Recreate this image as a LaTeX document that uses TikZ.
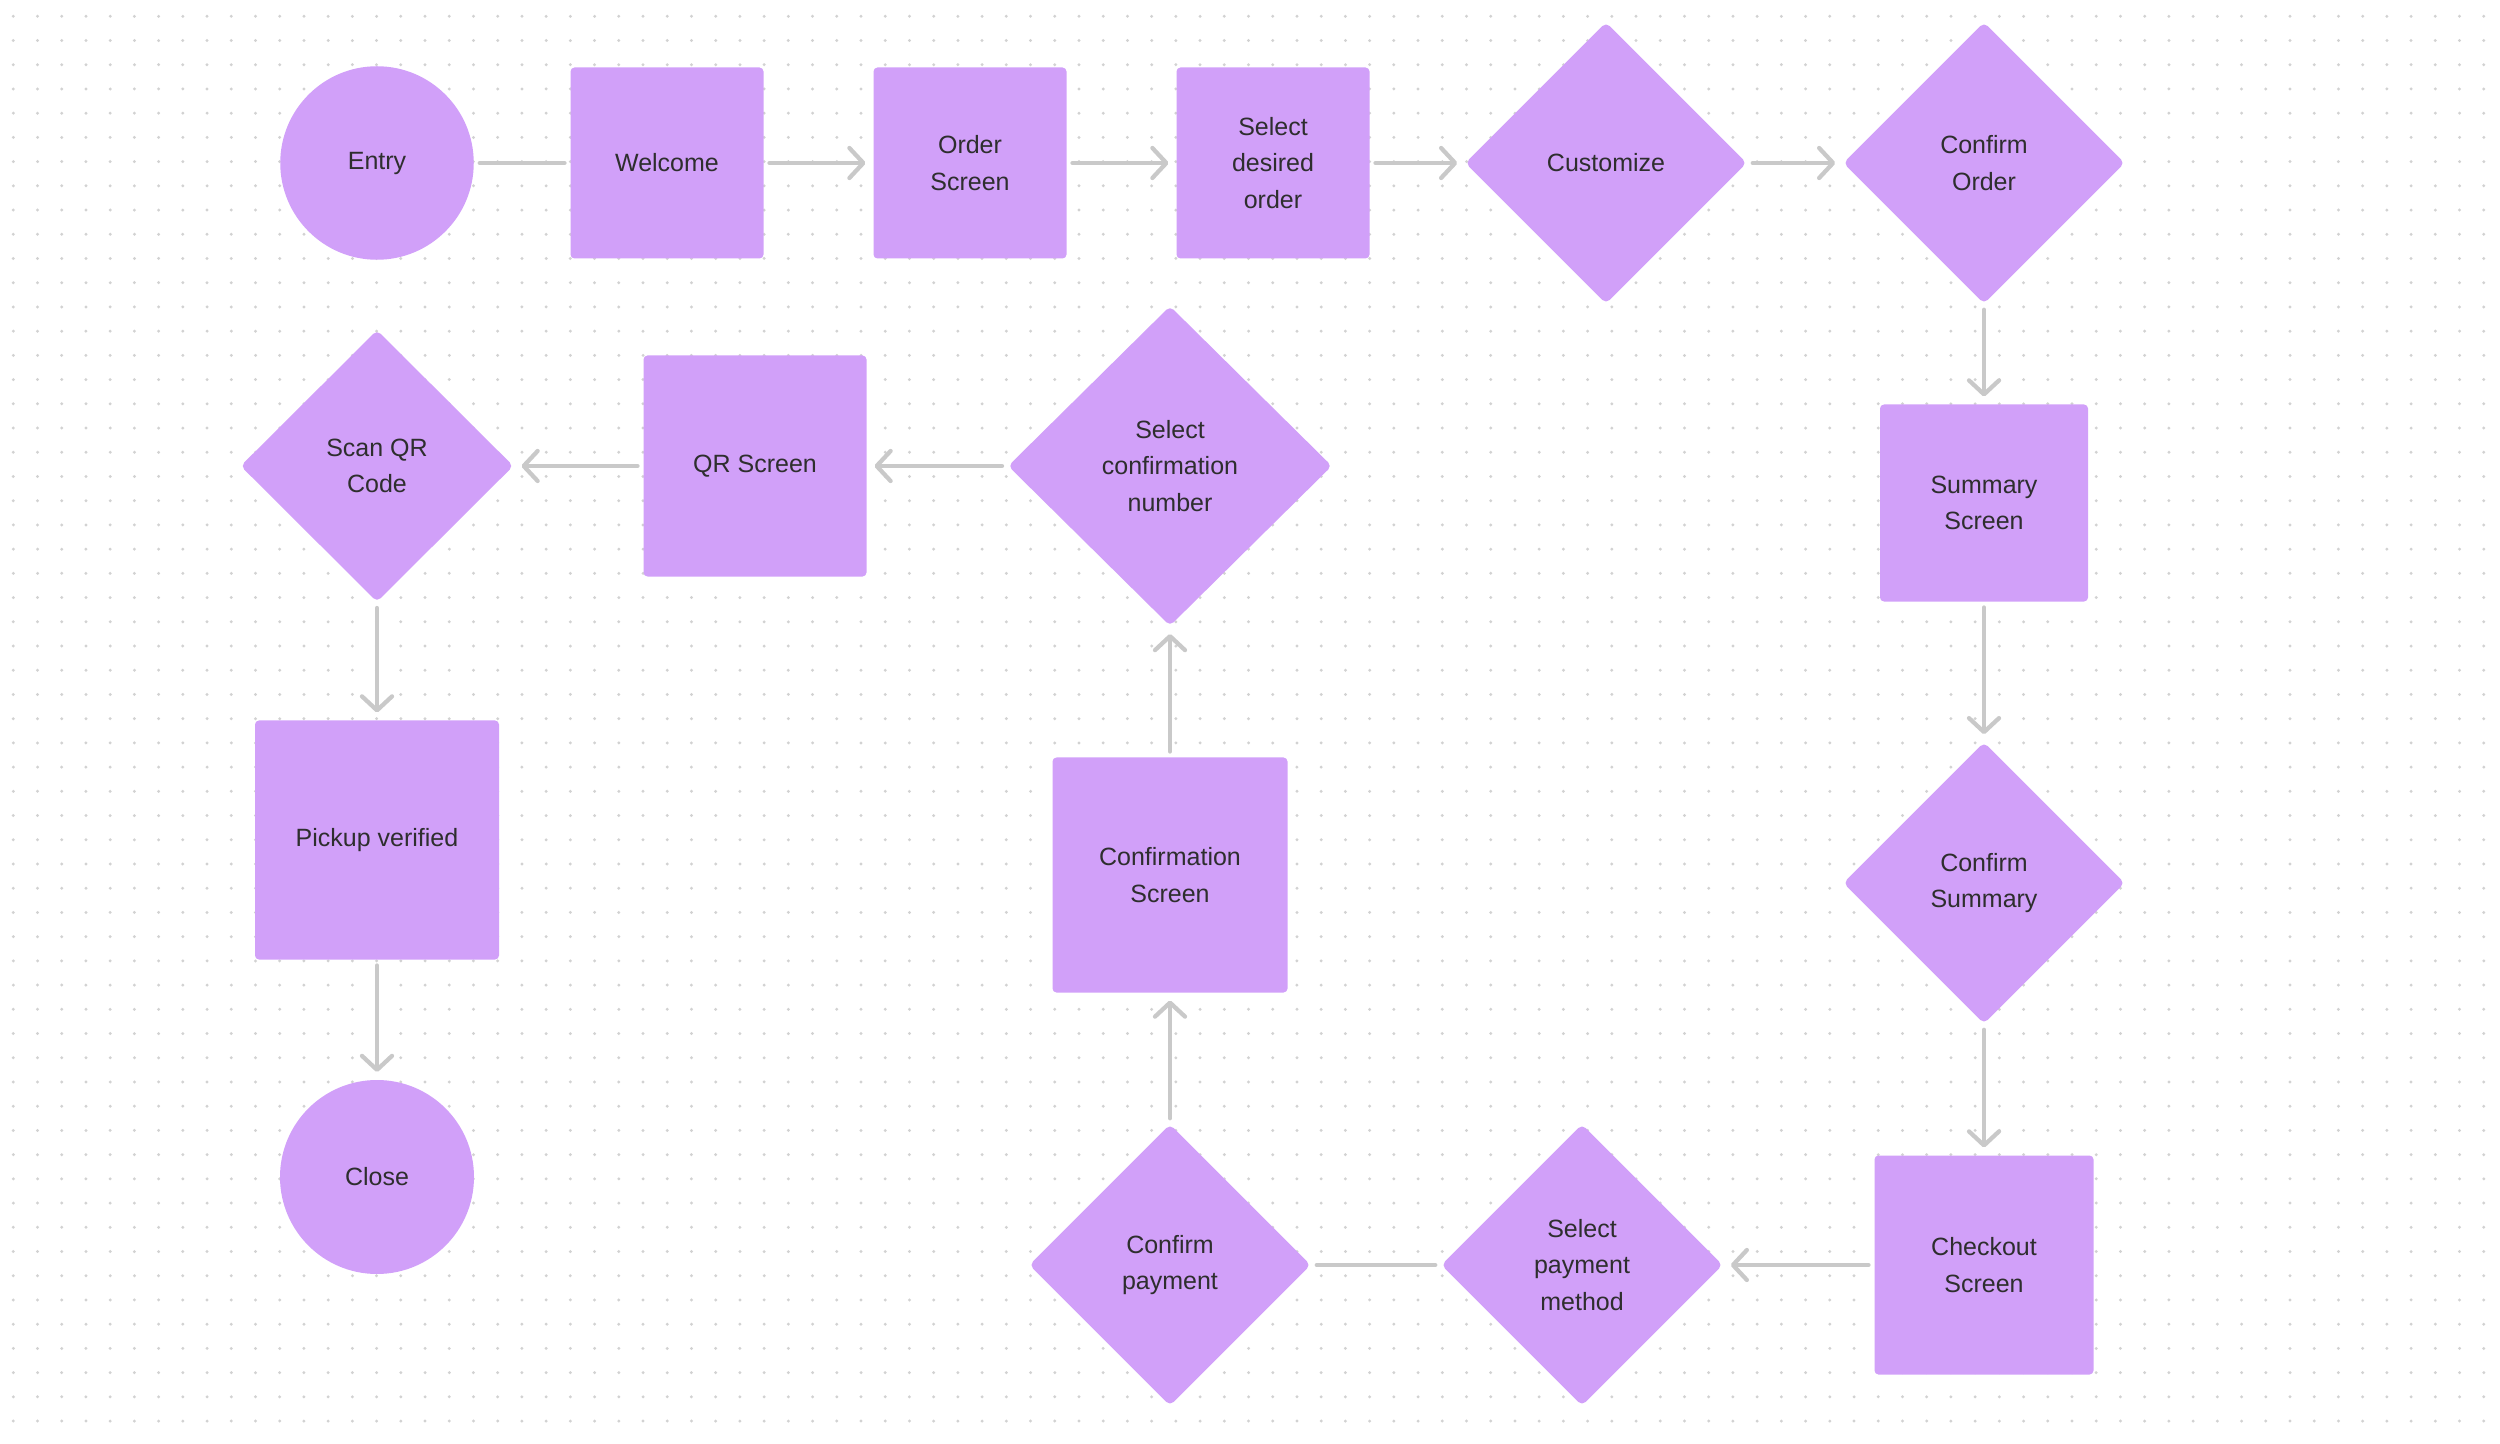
\documentclass[tikz,border=0pt]{standalone}
\usepackage{fontspec}
\setmainfont{Liberation Sans}
\usetikzlibrary{shapes.geometric,arrows.meta}
\definecolor{nodefill}{HTML}{D1A0F9}
\definecolor{txt}{HTML}{2E2E2E}
\definecolor{conncol}{HTML}{C9C9C9}
\definecolor{dotcol}{HTML}{D2D2D2}
\tikzset{
 base/.style={fill=nodefill, draw=none, text=txt, font=\fontsize{10pt}{14.6pt}\selectfont, align=center, inner sep=0pt},
 box/.style={base, rectangle, rounded corners=1.6pt},
 dia/.style={base, diamond, aspect=1, rounded corners=2pt, minimum width=112.6pt, minimum height=112.6pt},
 circ/.style={base, circle, minimum size=77.4pt},
 conn/.style={draw=conncol, line width=1.7pt, line cap=round, shorten <=2.2pt, shorten >=2.2pt},
 arr/.style={conn, -{Straight Barb[length=5.6pt,width=12pt,round]}, shorten >=3pt},
}
\begin{document}
\begin{tikzpicture}[x=0.4pt,y=-0.4pt]
\useasboundingbox (0,0) rectangle (2500,1444);
\fill[white] (0,0) rectangle (2500,1444);
\foreach \i in {0,...,102}{\foreach \j in {0,...,58}{\fill[dotcol] (13.3+24.22*\i, 16.3+24.22*\j) circle (0.65pt);}}

\node[circ] (entry) at (377,163) {Entry};
\node[box, minimum width=77.2pt, minimum height=76.4pt] (welcome) at (667,163) {Welcome};
\node[box, minimum width=77.2pt, minimum height=76.4pt] (order) at (970,163) {Order\\Screen};
\node[box, minimum width=77.2pt, minimum height=76.4pt] (seldes) at (1273,163) {Select\\desired\\order};
\node[dia] (custom) at (1606,163) {Customize};
\node[dia] (conforder) at (1984,163) {Confirm\\Order};
\node[box, minimum width=83.2pt, minimum height=78.8pt] (summary) at (1984,503) {Summary\\Screen};
\node[dia] (confsum) at (1984,883) {Confirm\\Summary};
\node[box, minimum width=87.6pt, minimum height=87.6pt] (checkout) at (1984,1265) {Checkout\\Screen};
\node[dia] (selpay) at (1582,1265) {Select\\payment\\method};
\node[dia] (confpay) at (1170,1265) {Confirm\\payment};
\node[box, minimum width=94pt, minimum height=94pt] (confscr) at (1170,875) {Confirmation\\Screen};
\node[dia, minimum width=129.6pt, minimum height=128pt] (selconf) at (1170,466) {Select\\confirmation\\number};
\node[box, minimum width=89.2pt, minimum height=88.4pt] (qr) at (755,466) {QR Screen};
\node[dia, minimum width=109.2pt, minimum height=108.8pt] (scan) at (377,466) {Scan QR\\Code};
\node[box, minimum width=97.6pt, minimum height=95.6pt] (pickup) at (377,840) {Pickup verified};
\node[circ, minimum size=77.6pt] (close) at (377,1177) {Close};

\draw[conn] (entry) -- (welcome);
\draw[arr] (welcome) -- (order);
\draw[arr] (order) -- (seldes);
\draw[arr] (seldes) -- (custom);
\draw[arr] (custom) -- (conforder);
\draw[arr] (conforder) -- (summary);
\draw[arr] (summary) -- (confsum);
\draw[arr] (confsum) -- (checkout);
\draw[arr] (checkout) -- (selpay);
\draw[conn] (selpay) -- (confpay);
\draw[arr] (confpay) -- (confscr);
\draw[arr] (confscr) -- (selconf);
\draw[arr] (selconf) -- (qr);
\draw[arr] (qr) -- (scan);
\draw[arr] (scan) -- (pickup);
\draw[arr] (pickup) -- (close);
\end{tikzpicture}
\end{document}
